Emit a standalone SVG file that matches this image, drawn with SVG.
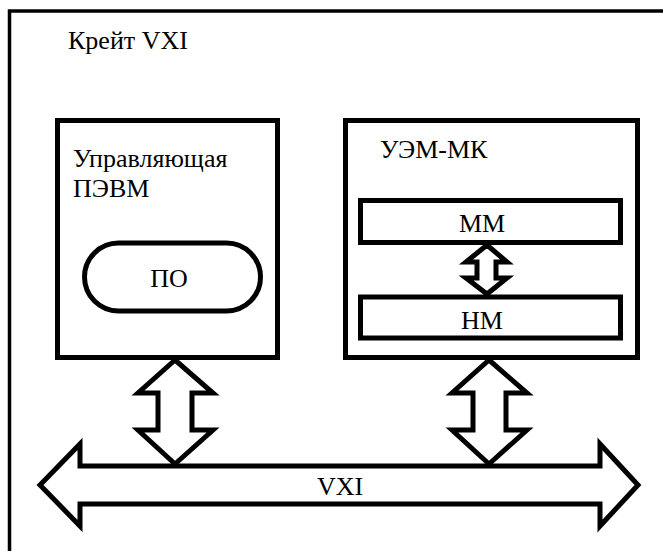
<svg xmlns="http://www.w3.org/2000/svg" width="663" height="551" viewBox="0 0 663 551">
<rect width="663" height="551" fill="#fff"/>
<g id="crate">
<rect x="9.5" y="11" width="670" height="560" fill="#fff" stroke="#000" stroke-width="3.5"/>
<text x="68" y="49" font-family="Times New Roman, serif" font-size="26">Крейт VXI</text>
</g>
<g id="pc">
<rect x="57.5" y="120.5" width="220" height="237" fill="#fff" stroke="#000" stroke-width="5"/>
<text x="73" y="167" font-family="Times New Roman, serif" font-size="26">Управляющая</text>
<text x="73" y="197" font-family="Times New Roman, serif" font-size="26">ПЭВМ</text>
</g>
<g id="po">
<rect x="84.5" y="243" width="176" height="68" rx="34" ry="34" fill="#fff" stroke="#000" stroke-width="5"/>
<text x="169" y="287" text-anchor="middle" font-family="Times New Roman, serif" font-size="26">ПО</text>
</g>
<g id="uem">
<rect x="345.5" y="120.5" width="292" height="237" fill="#fff" stroke="#000" stroke-width="5"/>
<text x="380" y="158" font-family="Times New Roman, serif" font-size="26">УЭМ-МК</text>
</g>
<g id="mm">
<rect x="360.5" y="200.5" width="260" height="42" fill="#fff" stroke="#000" stroke-width="5"/>
<text x="482" y="232" text-anchor="middle" font-family="Times New Roman, serif" font-size="26">ММ</text>
</g>
<g id="nm">
<rect x="360.5" y="297" width="260" height="41" fill="#fff" stroke="#000" stroke-width="5"/>
<text x="482" y="329" text-anchor="middle" font-family="Times New Roman, serif" font-size="26">НМ</text>
</g>
<g id="bus">
<polygon points="40,485 80,444 80,466 600,466 600,444 638,485 600,526 600,504 80,504 80,526" fill="#fff" stroke="#000" stroke-width="5"/>
<text x="340" y="495" text-anchor="middle" font-family="Times New Roman, serif" font-size="26">VXI</text>
</g>
<g id="connectors" fill="#fff" stroke="#000" stroke-width="5">
<polygon points="175,360 213,393 192,393 192,430 213,430 175,464 138,430 158,430 158,393 138,393"/>
<polygon points="489,360 527,393 506,393 506,430 527,430 489,464 452,430 473,430 473,393 452,393"/>
<polygon points="487,245 507,262 496,262 496,278 507,278 487,294 466,278 477,278 477,262 466,262"/>
</g>
</svg>
